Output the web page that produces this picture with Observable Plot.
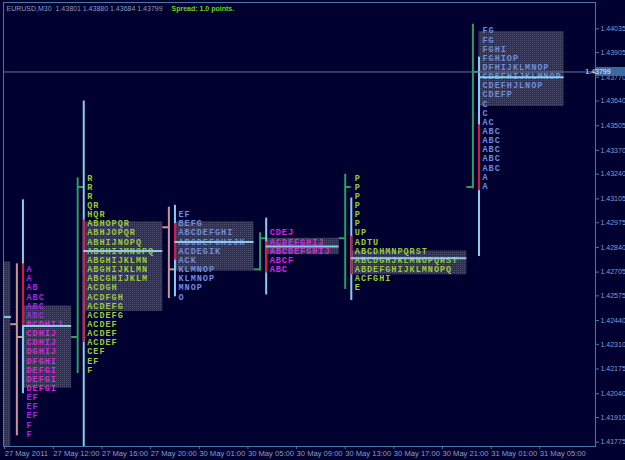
<!DOCTYPE html>
<html><head><meta charset="utf-8">
<script src="https://cdn.jsdelivr.net/npm/d3@7"></script>
<script src="https://cdn.jsdelivr.net/npm/@observablehq/plot@0.6"></script>
<style>html,body{margin:0;padding:0;background:#000030;} #chart{width:625px;height:460px;overflow:hidden}</style>
</head><body><div id="chart"></div>
<script>
// ---------- DATA ----------
const titleText = "EURUSD,M30  1.43801 1.43880 1.43684 1.43799";
const spreadText = "Spread: 1.0 points.";
const lastPrice = 1.43799;

const yTickLabels = ["1.44035","1.43905","1.43770","1.43640","1.43505","1.43370","1.43240","1.43105","1.42975","1.42840","1.42705","1.42575","1.42440","1.42310","1.42175","1.42040","1.41910","1.41775"];
const xTickBars = [0, 8, 16, 24, 32, 40, 48, 56, 64, 72, 80, 88];
const xTickLabels = ["27 May 2011","27 May 12:00","27 May 16:00","27 May 20:00","30 May 01:00","30 May 05:00","30 May 09:00","30 May 13:00","30 May 17:00","30 May 21:00","31 May 01:00","31 May 05:00"];

// TPO letter rows per profile (top to bottom) and their prices
const p1Rows = ["A","A","AB","ABC","ABC","ABC","BCDHIJ","CDHIJ","CDHIJ","DGHIJ","DFGHI","DEFGI","DEFGI","DEFGI","EF","EF","EF","F","F"];
const p1Prices = [1.4272,1.4267,1.4262,1.4257,1.4252,1.4247,1.4242,1.4237,1.4232,1.4227,1.4222,1.4217,1.4212,1.4207,1.4202,1.4197,1.4192,1.4187,1.4182];
const p2Rows = ["R","R","R","QR","HQR","ABHOPQR","ABHJOPQR","ABHIJNOPQ","ABCHIJMNOPQ","ABGHIJKLMN","ABGHIJKLMN","ABCGHIJKLM","ACDGH","ACDFGH","ACDEFG","ACDEFG","ACDEF","ACDEF","ACDEF","CEF","EF","F"];
const p2Prices = [1.4322,1.4317,1.4312,1.4307,1.4302,1.4297,1.4292,1.4287,1.4282,1.4277,1.4272,1.4267,1.4262,1.4257,1.4252,1.4247,1.4242,1.4237,1.4232,1.4227,1.4222,1.4217];
const p3Rows = ["EF","BEFG","ABCDEFGHI","ABCDEFGHIJK","ACDEGIK","ACK","KLMNOP","KLMNOP","MNOP","O"];
const p3Prices = [1.4302,1.4297,1.4292,1.4287,1.4282,1.4277,1.4272,1.4267,1.4262,1.4257];
const p4Rows = ["CDEJ","ACDEFGHIJ","ABCDEFGHIJ","ABCF","ABC"];
const p4Prices = [1.4292,1.4287,1.4282,1.4277,1.4272];
const p5Rows = ["P","P","P","P","P","P","UP","ADTU","ABCDHMNPQRST","ABCDGHJKLMNOPQRST","ABDEFGHIJKLMNOPQ","ACFGHI","E"];
const p5Prices = [1.4322,1.4317,1.4312,1.4307,1.4302,1.4297,1.4292,1.4287,1.4282,1.4277,1.4272,1.4267,1.4262];
const p6Rows = ["FG","FG","FGHI","FGHIOP","DFHIJKLMNOP","CDEFHIJKLMNOP","CDEFHJLNOP","CDEFP","C","C","AC","ABC","ABC","ABC","ABC","ABC","A","A"];
const p6Prices = [1.44025,1.43975,1.43925,1.43875,1.43825,1.43775,1.43725,1.43675,1.43625,1.43575,1.43525,1.43475,1.43425,1.43375,1.43325,1.43275,1.43225,1.43175];

// profile anchors (bar index of the range line)
const profileBars = [3, 13, 28, 43, 57, 78];
// session OHLC
const ohlcOpen  = [1.4242, 1.4235, 1.4295, 1.4272, 1.4289, 1.4317];
const ohlcHigh  = [1.4275, 1.4322, 1.4306, 1.4292, 1.4324, 1.4406];
const ohlcLow   = [1.4181, 1.4215, 1.4256, 1.4271, 1.4261, 1.4316];
const ohlcClose = [1.4235, 1.4317, 1.4272, 1.4289, 1.4317, 1.4380];
// range line and initial balance
const rangeHigh = [1.4310, 1.4364, 1.4307, 1.4300, 1.4311, 1.4388];
const rangeLow  = [1.4204, 1.4175, 1.4257, 1.4258, 1.4255, 1.4279];
const ibHigh    = [1.4275, 1.4299, 1.4297, 1.4287, 1.4290, 1.4351];
const ibLow     = [1.4241, 1.4232, 1.4277, 1.4270, 1.4269, 1.4315];
// point of control and value area
const pocPrice  = [1.4241, 1.4282, 1.4287, 1.42845, 1.4278, 1.4377];
const vaHigh    = [1.4252, 1.4298, 1.4298, 1.4289, 1.4282, 1.4402];
const vaLow     = [1.4207, 1.4249, 1.4271, 1.4280, 1.4269, 1.4361];
const vaEndBar  = [11, 26, 41, 55, 76, 92];
// partially visible earlier profile at the left edge
const priorVa = {start: -1, end: 1, high: 1.4276, low: 1.4170};
const priorPoc = {start: -1, end: 1.1, price: 1.4246};

// ---------- STYLE ----------
const BG = "#000030", FRAME = "#4a76a8", AXTEXT = "#8c9dc4";
const LBLUE = "#87ceeb", RED = "#dc143c", GREEN = "#2e9e5e", ROSY = "#c99596";
const MAG = "#e022e0", PURPLE = "#a224f0", YG = "#9acd32", BLU = "#6a8fe0";
const PLINE = "#557aa5";

// ---------- BUILD ----------
const rowsAll = [p1Rows, p2Rows, p3Rows, p4Rows, p5Rows, p6Rows];
const pricesAll = [p1Prices, p2Prices, p3Prices, p4Prices, p5Prices, p6Prices];
const profiles = profileBars.map((bar, i) => ({
  i, bar, open: ohlcOpen[i], high: ohlcHigh[i], low: ohlcLow[i], close: ohlcClose[i],
  rHigh: rangeHigh[i], rLow: rangeLow[i], ibH: ibHigh[i], ibL: ibLow[i],
  poc: pocPrice[i], vaH: vaHigh[i], vaL: vaLow[i], vaEnd: vaEndBar[i]
}));
const letters = profiles.flatMap(p => rowsAll[p.i].flatMap((row, ri) =>
  Array.from(row, (ch, k) => ({x: p.bar + 1 + k, y: pricesAll[p.i][ri], ch, pi: p.i, ri}))));
const letterColor = d => {
  if (d.pi === 0) return (d.ri >= 6 && d.ri <= 13) ? MAG : PURPLE;
  if (d.pi === 3) return MAG;
  if (d.pi === 1 || d.pi === 4) return YG;
  return BLU;
};
const up = profiles.filter(p => p.close >= p.open);
const down = profiles.filter(p => p.close < p.open);
const yTickVals = yTickLabels.map(Number);
const xLabelMap = new Map(xTickBars.map((b, i) => [b, xTickLabels[i]]));

const ohlcMarks = (data, color) => [
  Plot.ruleX(data, {x: d => d.bar - 1, y1: "low", y2: "high", stroke: color, strokeWidth: 2}),
  Plot.ruleY(data, {y: "open", x1: d => d.bar - 2, x2: d => d.bar - 1, stroke: color, strokeWidth: 2}),
  Plot.ruleY(data, {y: "close", x1: d => d.bar - 1, x2: d => d.bar, stroke: color, strokeWidth: 2})
];

const chart = Plot.plot({
  width: 625, height: 460,
  marginLeft: 3, marginRight: 30, marginTop: 2, marginBottom: 14,
  style: {background: BG, color: AXTEXT, fontFamily: "Liberation Sans, Arial, sans-serif", overflow: "visible"},
  x: {type: "linear", domain: [0, 88], range: [4.2, 539.3]},
  y: {type: "linear", domain: [1.41775, 1.44035], range: [441.7, 28.3]},
  color: {type: "identity"},
  marks: [
    Plot.rect([priorVa], {x1: "start", x2: "end", y1: "low", y2: "high", fill: "url(#va)", clip: true}),
    Plot.ruleY([priorPoc], {y: "price", x1: "start", x2: "end", stroke: LBLUE, strokeWidth: 2, clip: true}),
    Plot.rect(profiles, {x1: "bar", x2: "vaEnd", y1: "vaL", y2: "vaH", fill: "url(#va)"}),
    ...ohlcMarks(up, GREEN),
    ...ohlcMarks(down, ROSY),
    Plot.ruleX(profiles, {x: "bar", y1: "rLow", y2: "rHigh", stroke: LBLUE, strokeWidth: 2}),
    Plot.ruleX(profiles, {x: "bar", y1: "ibL", y2: "ibH", stroke: RED, strokeWidth: 2}),
    Plot.text(letters, {x: "x", y: "y", text: "ch", fill: letterColor,
      fontFamily: "Liberation Mono, monospace", fontWeight: "bold", fontSize: 8.5,
      textAnchor: "middle", lineAnchor: "middle"}),
    Plot.ruleY(profiles, {y: "poc", x1: "bar", x2: "vaEnd", stroke: LBLUE, strokeWidth: 2}),
    Plot.ruleY([lastPrice], {stroke: PLINE, strokeWidth: 1}),
    Plot.frame({stroke: FRAME}),
    Plot.axisY(yTickVals, {anchor: "right", tickSize: 3, tickPadding: 2, tickFormat: d => d.toFixed(5),
      stroke: FRAME, fill: AXTEXT, fontSize: 7, label: null}),
    Plot.axisX(xTickBars, {anchor: "bottom", tickSize: 3, tickPadding: 1.5, tickFormat: d => xLabelMap.get(d),
      textAnchor: "start", stroke: FRAME, fill: AXTEXT, fontSize: 7.6, label: null}),
    Plot.text([titleText], {frameAnchor: "top-left", dx: 3, dy: 6, text: d => d, fill: AXTEXT,
      fontSize: 7, textAnchor: "start", lineAnchor: "middle"}),
    Plot.text([spreadText], {frameAnchor: "top-left", dx: 168, dy: 6, text: d => d, fill: "#6fd21c",
      fontSize: 7, fontWeight: "bold", textAnchor: "start", lineAnchor: "middle"})
  ]
});

// stippled value-area fill
chart.insertAdjacentHTML("afterbegin",
  '<defs><pattern id="va" width="2" height="2" patternUnits="userSpaceOnUse">' +
  '<rect width="2" height="2" fill="#2f2f4e"/><rect width="1" height="1" fill="#4e4e6e"/></pattern></defs>');

// current price label box on the price axis
const ys = chart.scale("y");
const yy = ys.apply(lastPrice);
const svg = d3.select(chart);
const g = svg.append("g");
g.append("rect").attr("x", 596).attr("y", yy - 4.5).attr("width", 29).attr("height", 9).attr("fill", "#3b6aa0");
g.append("text").attr("x", 598).attr("y", yy).attr("dy", "0.35em").attr("fill", "#e6eeff")
  .attr("font-size", 7).attr("font-family", "Liberation Sans, Arial, sans-serif").text(lastPrice.toFixed(5));

document.getElementById("chart").appendChild(chart);
</script></body></html>
